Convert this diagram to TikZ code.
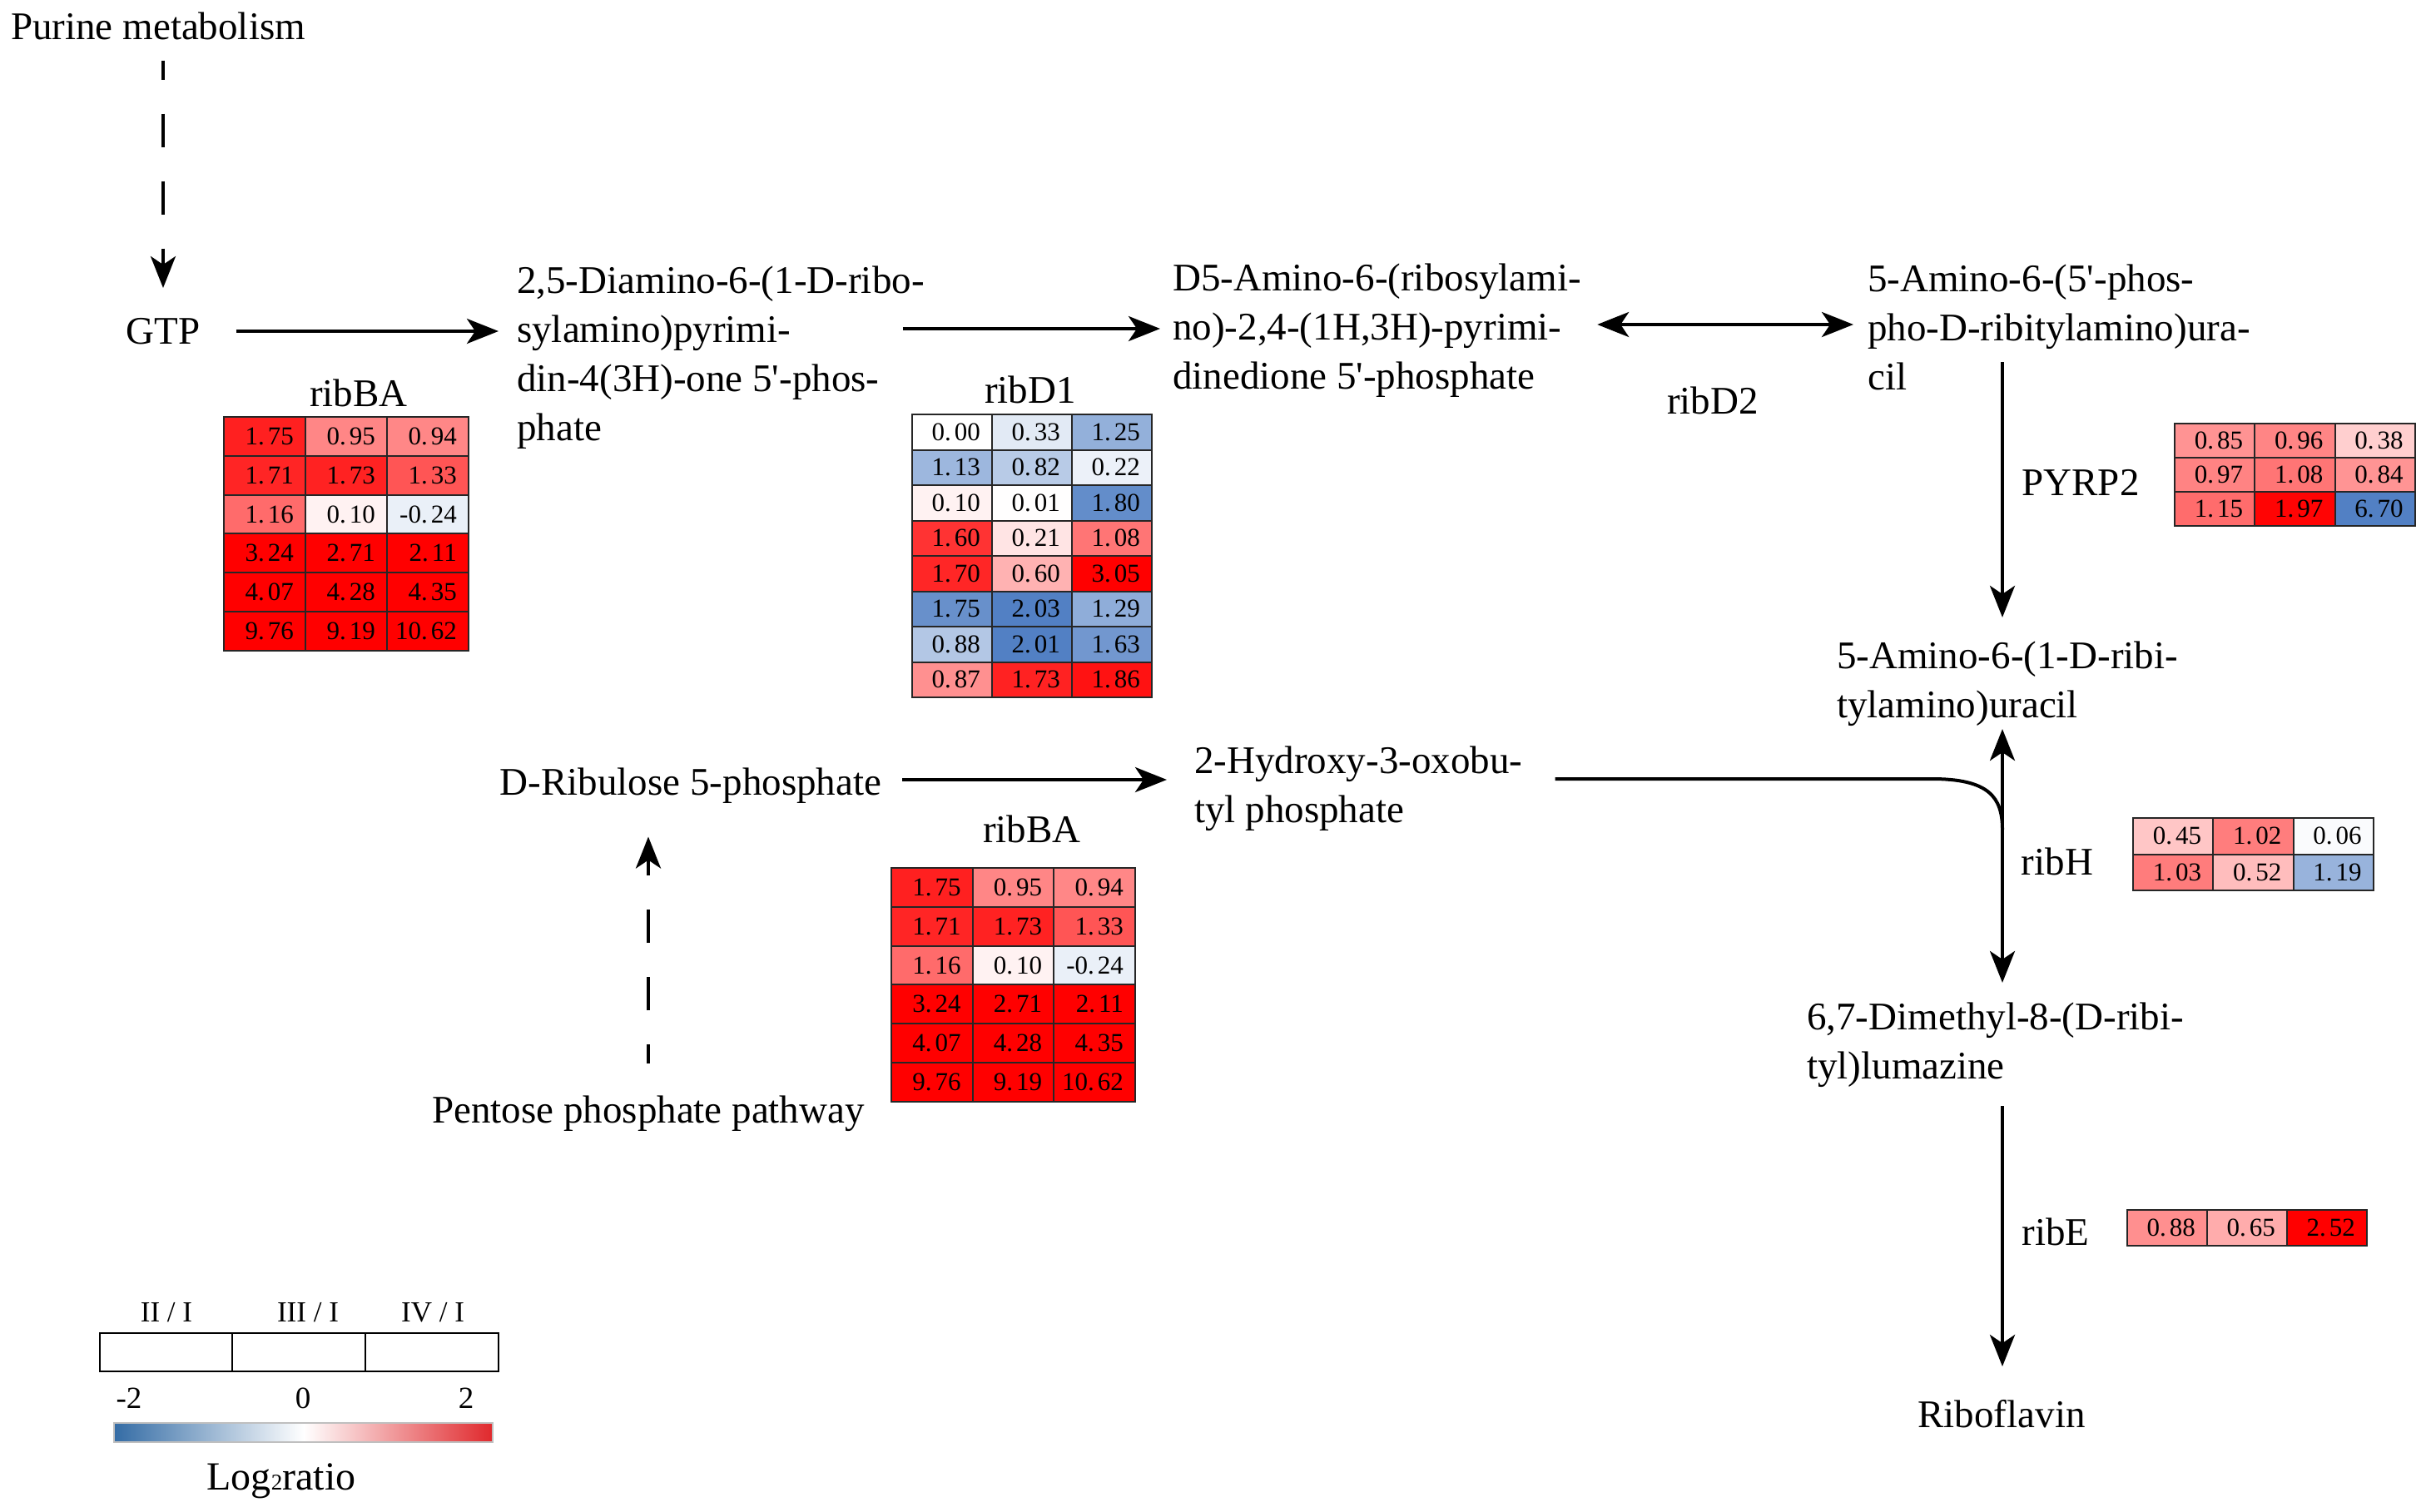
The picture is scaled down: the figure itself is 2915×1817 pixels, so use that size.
\documentclass[tikz,border=0pt]{standalone}
\usepackage{fontspec}
\setmainfont{Liberation Serif}
\usetikzlibrary{arrows.meta,calc}
\definecolor{hr}{RGB}{255,0,0}
\definecolor{hb}{RGB}{82,128,196}
\definecolor{cbB}{RGB}{52,108,165}
\definecolor{cbR}{RGB}{224,40,44}
\def\splitdot#1.#2\relax{#1.\kern4pt#2}
\newcommand\heattable[6]{%
  \foreach \rowlist [count=\i from 0] in {#6} {
    \foreach \v/\c [count=\j from 0] in \rowlist {
      \pgfmathsetmacro\pc{min(100,abs(\v)*50)}
      \draw[cellb, fill=\c!\pc!white] ({#2+\j*#4},{#3+\i*#5}) rectangle ++(#4,#5);
      \node[num] (#1-\i-\j) at ({#2+(\j+1)*#4-14},{#3+(\i+0.5)*#5}) {\expandafter\splitdot\v\relax};
    }
  }
}
\begin{document}
\begin{tikzpicture}[x=1pt,y=-1pt,
  txt/.style={inner sep=0pt, font=\fontsize{47}{59}\selectfont, align=left},
  lab/.style={inner sep=0pt, font=\fontsize{47}{59}\selectfont},
  arr/.style={line width=4pt, -{Stealth[length=38pt,width=30pt,inset=10pt]}},
  arrs/.style={line width=4pt, {Stealth[length=38pt,width=30pt,inset=10pt]}-{Stealth[length=38pt,width=30pt,inset=10pt]}},
  dsh/.style={dash pattern=on 40pt off 41pt, dash phase=17pt},
  cellb/.style={draw=black!85, line width=2pt},
  num/.style={font=\fontsize{31}{31}\selectfont, inner sep=0pt, anchor=east},
  leghd/.style={inner sep=0pt, font=\fontsize{35}{40}\selectfont},
  legnum/.style={inner sep=0pt, font=\fontsize{37}{40}\selectfont}
]
\useasboundingbox (0,0) rectangle (2915,1817);
\fill[white] (0,0) rectangle (2915,1817);

% compound nodes
\node[lab] (Purine) at (190,31) {Purine metabolism};
\node[lab] (GTP) at (196,398) {GTP};
\node[txt, anchor=west] (A) at (621,430) {2,5-Diamino-6-(1-D-ribo-\\sylamino)pyrimi-\\din-4(3H)-one 5\textquotesingle-phos-\\phate};
\node[txt, anchor=west] (B) at (1409,397) {D5-Amino-6-(ribosylami-\\no)-2,4-(1H,3H)-pyrimi-\\dinedione 5\textquotesingle-phosphate};
\node[txt, anchor=west] (C) at (2244,393) {5-Amino-6-(5\textquotesingle-phos-\\pho-D-ribitylamino)ura-\\cil};
\node[txt, anchor=west] (D) at (2207,822) {5-Amino-6-(1-D-ribi-\\tylamino)uracil};
\node[txt, anchor=west] (E) at (2171,1256) {6,7-Dimethyl-8-(D-ribi-\\tyl)lumazine};
\node[txt, anchor=west] (F) at (1435,948) {2-Hydroxy-3-oxobu-\\tyl phosphate};
\node[lab] (Ribo) at (2405,1699) {Riboflavin};
\node[lab] (Ribulose) at (830,944) {D-Ribulose 5-phosphate};
\node[lab] (Pentose) at (779,1338) {Pentose phosphate pathway};

% enzyme labels
\node[lab] (lribBA1) at (431,472) {ribBA};
\node[lab] (lribD1) at (1238,468) {ribD1};
\node[lab] (lribD2) at (2058,481) {ribD2};
\node[lab] (lPYRP2) at (2500,580) {PYRP2};
\node[lab] (lribH) at (2472,1035) {ribH};
\node[lab] (lribE) at (2470,1480) {ribE};
\node[lab] (lribBA2) at (1240,996) {ribBA};

% connectors
\coordinate (vx) at (2406,0);
\coordinate (c1) at (2406,435);
\coordinate (cv) at (2321,936);
\coordinate (cj) at (2406,997);
\draw[arr, dsh, shorten <=25pt, shorten >=36pt] (GTP.north |- Purine.south) -- (GTP.north);
\draw[arr, shorten <=43pt, shorten >=22pt] (GTP.east) -- (GTP.east -| A.west);
\draw[arr, shorten >=15pt] ($(A.east |- GTP.east)+(-26,-3)$) -- ($(B.west |- GTP.east)+(0,-3)$);
\draw[arrs] ($(B.east)+(19,-7)$) -- ($(C.west)+(-17,-3)$);
\draw[arr, shorten >=29pt] (c1) -- (vx |- D.north);
\draw[arrs, shorten <=3pt, shorten >=24pt] (vx |- D.south) -- (vx |- E.north);
\draw[line width=4pt] ($(F.east)+(39,-12)$) -- (cv) .. controls (2390,936) and (2406,958) .. (cj);
\draw[arr, shorten <=22pt, shorten >=40pt] (vx |- E.south) -- (vx |- Ribo.north);
\draw[arr] ($(Ribulose.east)+(25,-7)$) -- ($(F.west |- Ribulose.east)+(-33,-7)$);
\draw[arr, dsh, shorten <=38pt, shorten >=40pt] (Pentose.north) -- (Pentose.north |- Ribulose.south);

% heat tables
\heattable{t1}{269}{501}{98}{46.8}{{1.75/hr,0.95/hr,0.94/hr},{1.71/hr,1.73/hr,1.33/hr},{1.16/hr,0.10/hr,-0.24/hb},{3.24/hr,2.71/hr,2.11/hr},{4.07/hr,4.28/hr,4.35/hr},{9.76/hr,9.19/hr,10.62/hr}}
\heattable{t2}{1096}{498}{96}{42.5}{{0.00/hr,0.33/hb,1.25/hb},{1.13/hb,0.82/hb,0.22/hb},{0.10/hr,0.01/hr,1.80/hb},{1.60/hr,0.21/hr,1.08/hr},{1.70/hr,0.60/hr,3.05/hr},{1.75/hb,2.03/hb,1.29/hb},{0.88/hb,2.01/hb,1.63/hb},{0.87/hr,1.73/hr,1.86/hr}}
\heattable{t3}{1071}{1043}{97.7}{46.8}{{1.75/hr,0.95/hr,0.94/hr},{1.71/hr,1.73/hr,1.33/hr},{1.16/hr,0.10/hr,-0.24/hb},{3.24/hr,2.71/hr,2.11/hr},{4.07/hr,4.28/hr,4.35/hr},{9.76/hr,9.19/hr,10.62/hr}}
\heattable{t4}{2613}{509}{96.3}{41}{{0.85/hr,0.96/hr,0.38/hr},{0.97/hr,1.08/hr,0.84/hr},{1.15/hr,1.97/hr,6.70/hb}}
\heattable{t5}{2563}{983}{96.3}{43.5}{{0.45/hr,1.02/hr,0.06/hb},{1.03/hr,0.52/hr,1.19/hb}}
\heattable{t6}{2556}{1454}{96}{43}{{0.88/hr,0.65/hr,2.52/hr}}

% legend
\node[leghd] (g1) at (200,1577) {II / I};
\node[leghd] (g2) at (370,1577) {III / I};
\node[leghd] (g3) at (520,1577) {IV / I};
\draw[line width=2pt] (120,1602) rectangle (599,1648);
\draw[line width=2pt] (279,1602) -- (279,1648);
\draw[line width=2pt] (439,1602) -- (439,1648);
\node[legnum] (gm2) at (155,1680) {-2};
\node[legnum] (g0) at (364,1680) {0};
\node[legnum] (gp2) at (560,1680) {2};
\shade[left color=cbB, right color=white] (137,1710) rectangle (365,1733);
\shade[left color=white, right color=cbR] (365,1710) rectangle (592,1733);
\draw[black!25, line width=1.5pt] (137,1710) rectangle (592,1733);
\node[inner sep=0pt, font=\fontsize{48}{52}\selectfont] (glog) at (338,1780) {Log{\fontsize{27}{27}\selectfont 2}ratio};
\end{tikzpicture}
\end{document}
